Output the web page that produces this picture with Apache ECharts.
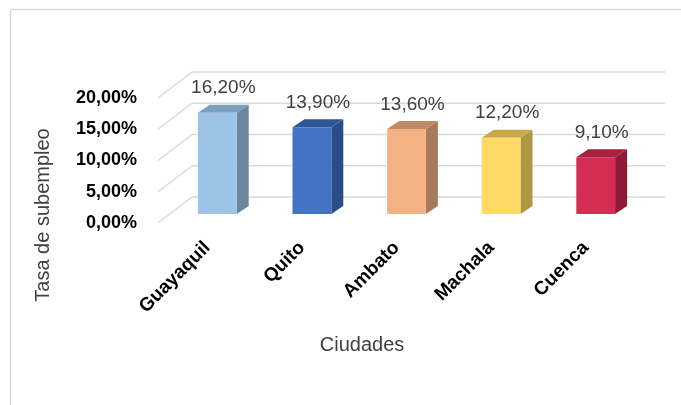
<!DOCTYPE html>
<html><head><meta charset="utf-8">
<script src="https://cdn.jsdelivr.net/npm/echarts@6/dist/echarts.min.js"></script>
<style>html,body{margin:0;padding:0;background:#fff}#c{width:681px;height:405px}</style>
</head><body><div id="c"></div>
<script>
const categories = ['Guayaquil', 'Quito', 'Ambato', 'Machala', 'Cuenca'];
const values = [16.2, 13.9, 13.6, 12.2, 9.1];
const tickValues = [0, 5, 10, 15, 20];
const frontColors = ['#9DC3E6', '#4472C4', '#F4B183', '#FFD966', '#D62B52'];
const topColors = ['#7E9EBF', '#2F5597', '#C08A66', '#C9A94A', '#A8203F'];
const sideColors = ['#6B869F', '#2C4C87', '#A67A5C', '#B09741', '#8E1B36'];

const FONT = '"Liberation Sans", Arial, sans-serif';
const fmt = v => v.toFixed(2).replace('.', ',') + '%';
// oblique projection offsets (styling)
const DX = 22, DY = -17;   // back wall relative to bar plane
const FX = -12, FY = 9;    // front floor edge relative to bar plane
const BDX = 12, BDY = -8;  // bar depth

const chart = echarts.init(document.getElementById('c'), null, {renderer: 'canvas'});
const option = {
  animation: false,
  backgroundColor: '#fff',
  grid: [
    {left: 170, top: 89, width: 473, height: 125},
    {left: 158, top: 98, width: 473, height: 125}
  ],
  xAxis: [
    {type: 'category', gridIndex: 0, data: categories,
     axisLine: {show: false}, axisTick: {show: false}, splitLine: {show: false},
     axisLabel: {rotate: 45, margin: 21, padding: [0, 14, 0, 0], interval: 0,
       fontFamily: FONT, fontWeight: 'bold', fontSize: 19, color: '#000'}},
    {type: 'category', gridIndex: 1, data: categories, show: false}
  ],
  yAxis: [
    {type: 'value', gridIndex: 0, min: 0, max: 20, interval: 5, show: false},
    {type: 'value', gridIndex: 1, min: 0, max: 20, interval: 5,
     axisLine: {show: false}, axisTick: {show: false}, splitLine: {show: false},
     axisLabel: {margin: 21, formatter: v => fmt(v),
       fontFamily: FONT, fontWeight: 'bold', fontSize: 18, color: '#000'}}
  ],
  graphic: [
    {type: 'polyline', silent: true, z: 0,
     shape: {points: [[10.5, 405], [10.5, 9.5], [681, 9.5]]},
     style: {stroke: '#d9d9d9', lineWidth: 1.5, fill: null}},
    {type: 'text', x: 43, y: 215, rotation: Math.PI / 2,
     style: {text: 'Tasa de subempleo', fontFamily: FONT, fontSize: 20, fill: '#404040',
       align: 'center', verticalAlign: 'middle'}},
    {type: 'text', x: 362, y: 345,
     style: {text: 'Ciudades', fontFamily: FONT, fontSize: 20, fill: '#404040',
       align: 'center', verticalAlign: 'middle'}}
  ],
  series: [
    {
      type: 'custom', xAxisIndex: 0, yAxisIndex: 0, z: 1, silent: true,
      data: tickValues.map(v => [0, v]),
      renderItem(params, api) {
        const y = api.coord([0, api.value(1)])[1];
        const cs = params.coordSys;
        const x0 = cs.x, x1 = cs.x + cs.width;
        const st = {stroke: '#d9d9d9', lineWidth: 1.5};
        return {type: 'group', children: [
          {type: 'line', shape: {x1: x0 + FX, y1: y + FY, x2: x0 + DX, y2: y + DY}, style: st},
          {type: 'line', shape: {x1: x0 + DX, y1: y + DY, x2: x1 + DX, y2: y + DY}, style: st}
        ]};
      }
    },
    {
      type: 'custom', xAxisIndex: 0, yAxisIndex: 0, z: 2,
      data: values.map((v, i) => [i, v]),
      renderItem(params, api) {
        const i = api.value(0), v = api.value(1);
        const top = api.coord([i, v]);
        const base = api.coord([i, 0]);
        const bw = api.size([1, 0])[0] * 0.41;
        const xl = top[0] - bw / 2, xr = top[0] + bw / 2;
        const yt = top[1], yb = base[1];
        return {type: 'group', children: [
          {type: 'polygon', shape: {points: [[xr, yt], [xr + BDX, yt + BDY], [xr + BDX, yb + BDY], [xr, yb]]},
           style: {fill: sideColors[i]}},
          {type: 'polygon', shape: {points: [[xl, yt], [xl + BDX, yt + BDY], [xr + BDX, yt + BDY], [xr, yt]]},
           style: {fill: topColors[i]}},
          {type: 'rect', shape: {x: xl, y: yt, width: bw, height: yb - yt},
           style: {fill: frontColors[i]}},
          {type: 'text', x: top[0] + BDX / 2, y: yt + BDY - 7,
           style: {text: fmt(v), fontFamily: FONT, fontSize: 19, fill: '#404040',
             align: 'center', verticalAlign: 'bottom'}}
        ]};
      }
    }
  ]
};
chart.setOption(option);
</script>
</body></html>
